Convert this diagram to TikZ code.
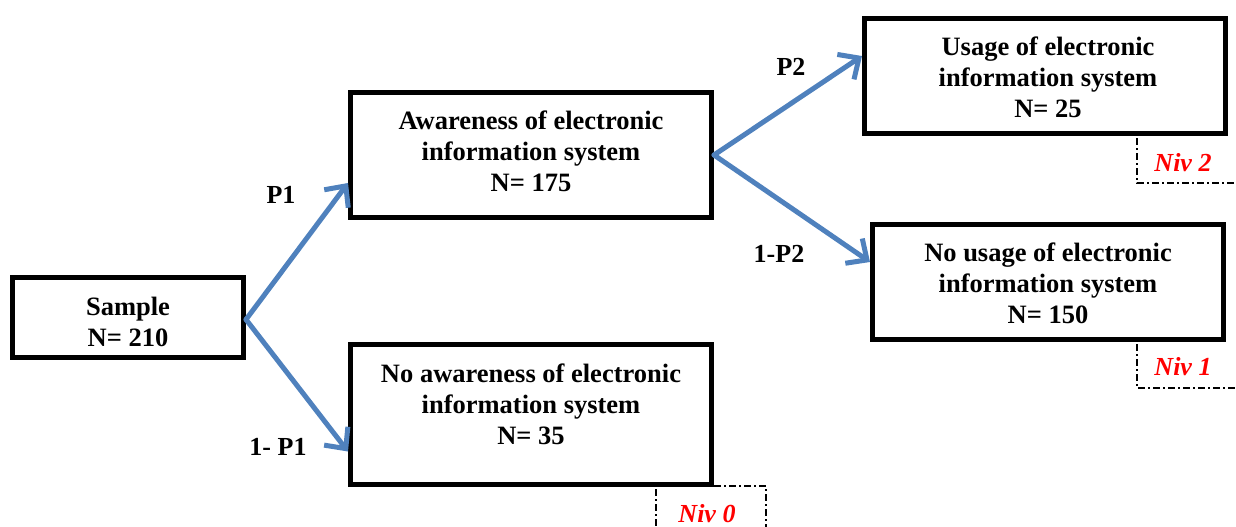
\documentclass[tikz,border=0pt]{standalone}
\usepackage{fontspec}
\setmainfont{Liberation Serif}
\usetikzlibrary{arrows.meta}
\definecolor{arrowblue}{HTML}{4F81BD}
\tikzset{
    box/.style={draw=black, line width=5pt, rectangle, inner sep=0pt},
    boxtext/.style={align=center, font=\bfseries\fontsize{26.5}{31}\selectfont},
    prob/.style={font=\bfseries\fontsize{26}{30}\selectfont},
    branch/.style={draw=arrowblue, line width=5pt, line cap=round,
        -{Straight Barb[length=16pt, width=30pt, line width=5pt]}},
    nivline/.style={line width=1.5pt, dash pattern=on 7pt off 3pt on 2pt off 3pt},
    nivtext/.style={text=red, font=\bfseries\itshape\fontsize{26}{30}\selectfont}
}
\begin{document}
\begin{tikzpicture}[x=1pt,y=-1pt]
    \useasboundingbox (0,0) rectangle (1236,527);
    % boxes
    \node[box, minimum width=231pt, minimum height=80pt] (sample) at (128,317.5) {};
    \node[box, minimum width=361pt, minimum height=125pt] (aware) at (531,155) {};
    \node[box, minimum width=361pt, minimum height=140pt] (noaware) at (531,414.5) {};
    \node[box, minimum width=361pt, minimum height=115pt] (usage) at (1045,76) {};
    \node[box, minimum width=351pt, minimum height=115pt] (nousage) at (1048,282) {};
    % texts
    \node[boxtext] (sampletxt) at (128,322) {Sample\\N= 210};
    \node[boxtext] (awaretxt) at (531,151) {Awareness of electronic\\information system\\N= 175};
    \node[boxtext] (noawaretxt) at (531,404) {No awareness of electronic\\information system\\N= 35};
    \node[boxtext] (usagetxt) at (1048,77) {Usage of electronic\\information system\\N= 25};
    \node[boxtext] (nousagetxt) at (1048,283) {No usage of electronic\\information system\\N= 150};
    % branches
    \draw[branch] ([yshift=-2pt]sample.east) -- ([yshift=-28pt]aware.west);
    \draw[branch] ([yshift=-2pt]sample.east) -- ([yshift=-37pt]noaware.west);
    \draw[branch] (aware.east) -- ([yshift=20pt]usage.west);
    \draw[branch] (aware.east) -- ([yshift=20pt]nousage.west);
    \node[prob] (p1) at (281,195) {P1};
    \node[prob] (q1) at (278,447) {1- P1};
    \node[prob] (p2) at (791,67) {P2};
    \node[prob] (q2) at (779,254) {1-P2};
    % levels
    \draw[nivline] (1137,138) -- (1137,183) -- (1236,183);
    \node[nivtext] (niv2) at (1183,163) {Niv 2};
    \draw[nivline] (1137,344) -- (1137,388) -- (1236,388);
    \node[nivtext] (niv1) at (1183,367) {Niv 1};
    \draw[nivline] (656,489) -- (656,527);
    \draw[nivline] (714,486) -- (766,486) -- (766,527);
    \node[nivtext] (niv0) at (707,514) {Niv 0};
\end{tikzpicture}
\end{document}
